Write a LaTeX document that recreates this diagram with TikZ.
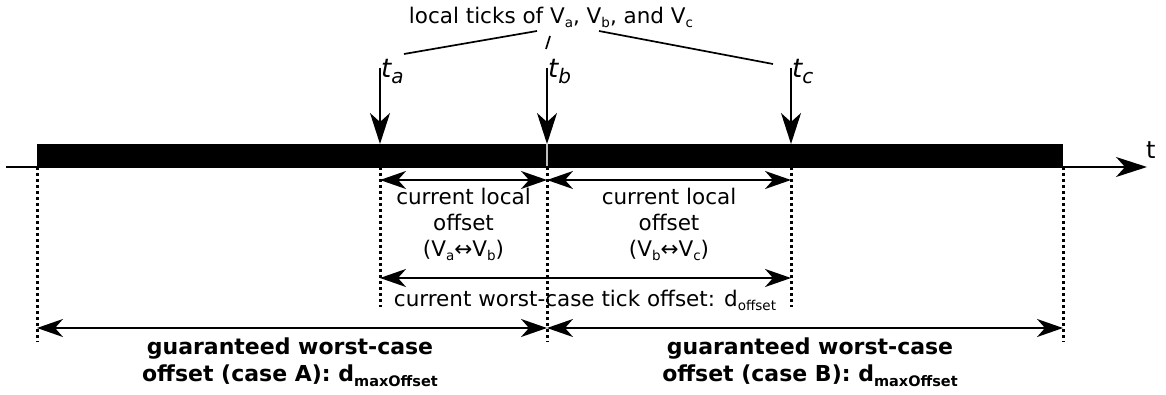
\documentclass[tikz,border=0pt]{standalone}
\usepackage{fontspec}
\setmainfont{DejaVu Sans}
\usetikzlibrary{arrows.meta}
\newcommand\sbs[1]{\raisebox{-0.35ex}{\fontsize{13.5}{13.5}\selectfont #1}}
\newcommand\bsbs[1]{\raisebox{-0.35ex}{\fontsize{14.5}{14.5}\selectfont #1}}
\newcommand\tsbs[1]{\raisebox{-0.2em}{\fontsize{20}{20}\selectfont #1}}
\begin{document}
\begin{tikzpicture}[x=1pt,y=-1pt,
 txt/.style={font=\fontsize{21.5}{26}\selectfont, inner sep=0pt, align=center},
 btxt/.style={txt, font=\fontsize{22}{27.5}\selectfont\bfseries},
 tlab/.style={font=\fontsize{26}{26}\selectfont\itshape, inner sep=0pt, anchor=base west},
 bigarr/.style={-{Stealth[length=31pt,width=20pt,inset=9pt]}, line width=1.7pt},
 dbl/.style={{Stealth[length=26pt,width=18pt,inset=8pt]}-{Stealth[length=26pt,width=18pt,inset=8pt]}, line width=1.7pt},
 dots/.style={line width=3pt, dash pattern=on 3pt off 3pt},
 thinline/.style={line width=1.7pt}]
\useasboundingbox (0,0) rectangle (1166,395);
% axis
\coordinate (ax0) at (6,167);
\coordinate (ax1) at (1147,167);
\draw[bigarr] (ax0) -- (ax1);
\node[txt, font=\fontsize{24}{24}\selectfont, anchor=west] (tl) at (1146,150) {t};
% bar
\fill (37,144) rectangle (1063,166.5);
\draw[white!75!black, line width=1.2pt] (547,144) -- (547,166.5);
% ticks
\coordinate (ta0) at (380,68); \coordinate (ta1) at (380,144);
\coordinate (tb0) at (547,68); \coordinate (tb1) at (547,144);
\coordinate (tc0) at (791,68); \coordinate (tc1) at (791,144);
\draw[bigarr] (ta0) -- (ta1);
\draw[bigarr] (tb0) -- (tb1);
\draw[bigarr] (tc0) -- (tc1);
\node[tlab] (lta) at (381,78) {t\tsbs{a}};
\node[tlab] (ltb) at (548,78) {t\tsbs{b}};
\node[tlab] (ltc) at (792,78) {t\tsbs{c}};
% top label
\node[txt] (top) at (551,17) {local ticks of V\sbs{a}, V\sbs{b}, and V\sbs{c}};
\coordinate (l1a) at (404,54); \coordinate (l1b) at (537,31);
\coordinate (l2a) at (550,36); \coordinate (l2b) at (546,49);
\coordinate (l3a) at (599,31); \coordinate (l3b) at (773,64);
\draw[thinline] (l1a) -- (l1b);
\draw[thinline] (l2a) -- (l2b);
\draw[thinline] (l3a) -- (l3b);
% dotted guides
\coordinate (d1a) at (37,167);   \coordinate (d1b) at (37,342);
\coordinate (d2a) at (380,167);  \coordinate (d2b) at (380,307);
\coordinate (d3a) at (547,167);  \coordinate (d3b) at (547,342);
\coordinate (d4a) at (791,167);  \coordinate (d4b) at (791,307);
\coordinate (d5a) at (1063,167); \coordinate (d5b) at (1063,342);
\foreach \p in {1,...,5} \draw[dots] (d\p a) -- (d\p b);
% double arrows
\coordinate (u1) at (380,180); \coordinate (u2) at (547,180); \coordinate (u3) at (791,180);
\draw[dbl] (u1) -- (u2);
\draw[dbl] (u2) -- (u3);
\coordinate (w1) at (380,278); \coordinate (w2) at (791,278);
\draw[dbl] (w1) -- (w2);
\coordinate (g1) at (37,328); \coordinate (g2) at (547,328); \coordinate (g3) at (1063,328);
\draw[dbl] (g1) -- (g2);
\draw[dbl] (g2) -- (g3);
% texts
\node[txt] (cl1) at (463.5,224) {current local\\offset\\(V\sbs{a}↔V\sbs{b})};
\node[txt] (cl2) at (669,224) {current local\\offset\\(V\sbs{b}↔V\sbs{c})};
\node[txt] (wc) at (585,300) {current worst-case tick offset: d\sbs{offset}};
\node[btxt] (ga) at (290,362) {guaranteed worst-case\\offset (case A): d\bsbs{maxOffset}};
\node[btxt] (gb) at (810,362) {guaranteed worst-case\\offset (case B): d\bsbs{maxOffset}};
\end{tikzpicture}
\end{document}
